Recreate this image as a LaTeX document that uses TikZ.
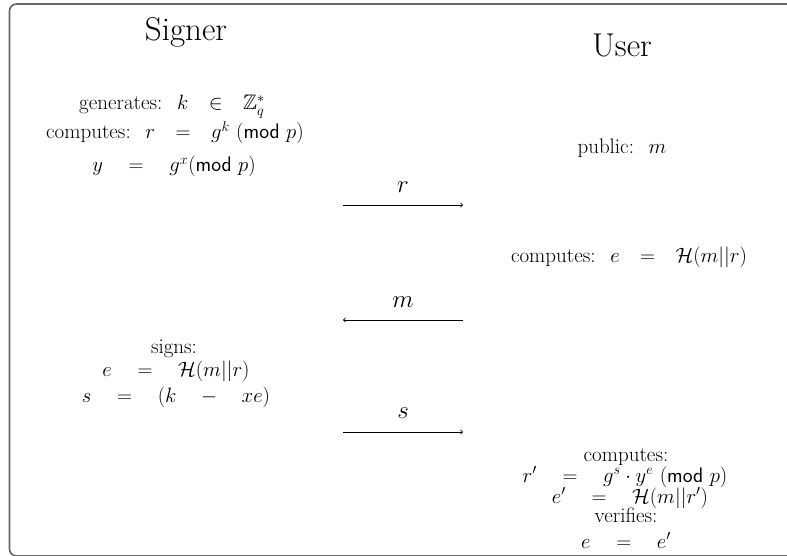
\documentclass[tikz,border=0pt]{standalone}
\usepackage{amsmath,amssymb}
% gap between the terms of an inline relation
\newcommand{\gp}{\hspace{0.7em}}
% wider gap used in the displayed relations
\newcommand{\gq}{\hspace{0.95em}}
\begin{document}
\begin{tikzpicture}[x=1pt,y=-1pt,
  body/.style={font=\fontsize{21}{24}\selectfont, inner sep=0pt, anchor=base},
  head/.style={font=\fontsize{33}{37}\selectfont, inner sep=0pt, anchor=base},
  msg/.style={font=\fontsize{31}{35}\selectfont, inner sep=0pt, anchor=base},
  flow/.style={->, line width=0.8pt},
  frame/.style={draw=black!60, line width=1.6pt, rounded corners=7pt}]
  \useasboundingbox (0,0) rectangle (787,556);
  \clip (0,0) rectangle (787,556);
  % outer frame
  \draw[frame] (9.5,4) rectangle (820,556);

  % column headings
  \node[head] (signer) at (186,41) {Signer};
  \node[head] (user) at (622,57) {User};

  % signer: commitment
  \node[body] (gen) at (172,110) {generates:\gp$k\gp\in\gp\mathbb{Z}_q^*$};
  \node[body] (comr) at (175,139) {computes:\gp$r\gp=\gp g^k$ (\textsf{mod} $p$)};
  \node[body] (pub) at (174,172) {$y\gq=\gq g^x(\textsf{mod}\ p)$};

  % user: message and challenge
  \node[body] (pubm) at (622,154) {public:\gp$m$};
  \node[body] (come) at (629,262) {computes:\gp$e\gp=\gp\mathcal{H}(m||r)$};

  % signer: signature
  \node[body] (signs) at (174,353) {signs:};
  \node[body] (sige) at (176,376) {$e\gq=\gq\mathcal{H}(m||r)$};
  \node[body] (sigs) at (176,402) {$s\gq=\gq(k\gq-\gq xe)$};

  % user: verification
  \node[body] (comp2) at (626,461) {computes:};
  \node[body] (rp) at (625,482) {$r'\gq=\gq g^s \cdot y^e$ (\textsf{mod} $p$)};
  \node[body] (ep) at (630,503) {$e'\gq=\gq\mathcal{H}(m||r')$};
  \node[body] (ver) at (626,522) {verifies:};
  \node[body] (eq) at (626,548) {$e\gq=\gq e'$};

  % message flows
  \coordinate (r0) at (343,205);  \coordinate (r1) at (463,205);
  \coordinate (m0) at (463,320);  \coordinate (m1) at (343,320);
  \coordinate (s0) at (343,432);  \coordinate (s1) at (463,432);
  \draw[flow] (r0) -- (r1);
  \draw[flow] (m0) -- (m1);
  \draw[flow] (s0) -- (s1);
  \node[msg] (rl) at (403,193) {$r$};
  \node[msg] (ml) at (403,307) {$m$};
  \node[msg] (sl) at (403,418) {$s$};
\end{tikzpicture}
\end{document}
